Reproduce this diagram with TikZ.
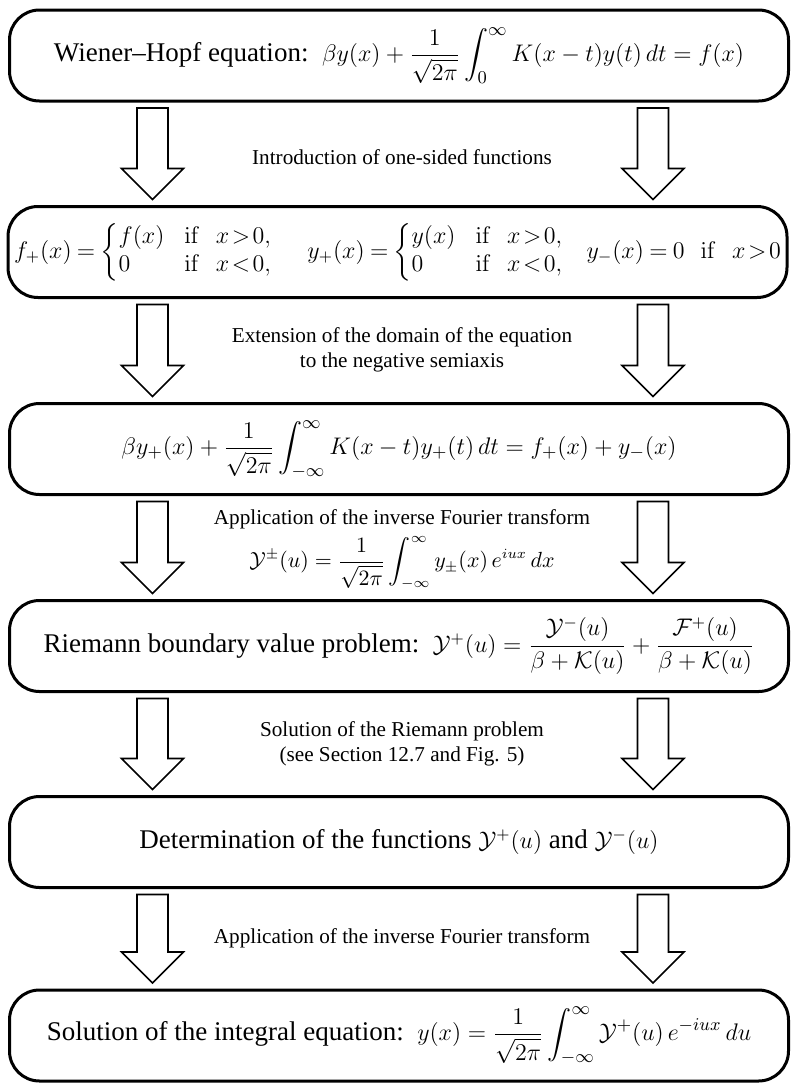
\documentclass[tikz,border=0pt]{standalone}
\usepackage{amsmath}
\usepackage[no-math]{fontspec}
\setmainfont{Liberation Serif}
\usetikzlibrary{calc}
\tikzset{
  stage/.style={draw, line width=1.5pt, rounded corners=15pt, minimum width=389.5pt,
    minimum height=45.5pt, inner sep=0pt, outer sep=0pt, font=\fontsize{13.5}{16}\selectfont},
  lbl/.style={font=\fontsize{10.6}{12.5}\selectfont, align=center, inner sep=0pt},
  barrow/.style={draw, line width=0.8pt, fill=white, line join=miter}
}
\newcommand\mth[2][12]{{\fontsize{#1}{14}\selectfont$#2$}}
\newcommand\blockarr[3]{%
  \path (#1.south -| #3) ++(0,7) coordinate (s)
        (#2.north -| #3) ++(0,-7) coordinate (t);
  \draw[barrow] ($(s)+(-15.5,0)$) -- ($(s)+(15.5,0)$) -- ($(t)+(15.5,-31)$)
    -- ($(t)+(31,-31)$) -- (t) -- ($(t)+(-31,-31)$) -- ($(t)+(-15.5,-31)$) -- cycle;}
\begin{document}
\begin{tikzpicture}[x=0.5pt,y=-0.5pt]
\useasboundingbox (0,0) rectangle (791,1083);
\coordinate (colL) at (152.5,0);
\coordinate (colR) at (653,0);

\node[stage] (b1) at (399,55.5) {Wiener--Hopf equation:\enspace \mth[13]{\beta y(x)+\dfrac{1}{\sqrt{2\pi}}\displaystyle\int_0^\infty K(x-t)y(t)\,dt=f(x)}};

\node[stage] (b2) at (397.5,252) {\mth{f_+(x)\mkern-1mu=\mkern-1mu\left\{\begin{array}{@{}ll}f(x) & \mathrm{if}\hspace{8pt}x\!>\!0,\\ 0 & \mathrm{if}\hspace{8pt}x\!<\!0,\end{array}\right.}\hspace{12pt}\mth{y_+(x)\mkern-1mu=\mkern-1mu\left\{\begin{array}{@{}ll}y(x) & \mathrm{if}\hspace{8pt}x\!>\!0,\\ 0 & \mathrm{if}\hspace{8pt}x\!<\!0,\end{array}\right.}\hspace{6pt}\mth{y_-(x)\mkern-1mu=\mkern-1mu0\hspace{8pt}\mathrm{if}\hspace{8pt}x\!>\!0}};

\node[stage] (b3) at (399,449) {\mth[12.25]{\beta y_+(x)+\dfrac{1}{\sqrt{2\pi}}\displaystyle\int_{-\infty}^{\infty}K(x-t)y_+(t)\,dt=f_+(x)+y_-(x)}};

\node[stage] (b4) at (399,646) {Riemann boundary value problem:\enspace \mth{\mathcal{Y}^+(u)=\dfrac{\mathcal{Y}^-(u)}{\beta+\mathcal{K}(u)}+\dfrac{\mathcal{F}^+(u)}{\beta+\mathcal{K}(u)}}};

\node[stage] (b5) at (399,842) {Determination of the functions \mth{\mathcal{Y}^+(u)} and \mth{\mathcal{Y}^-(u)}};

\node[stage] (b6) at (399,1035.5) {Solution of the integral equation:\enspace \mth[12.3]{y(x)=\dfrac{1}{\sqrt{2\pi}}\displaystyle\int_{-\infty}^{\infty}\mathcal{Y}^+(u)\,e^{-iux}\,du}};

\blockarr{b1}{b2}{colL}\blockarr{b1}{b2}{colR}
\blockarr{b2}{b3}{colL}\blockarr{b2}{b3}{colR}
\blockarr{b3}{b4}{colL}\blockarr{b3}{b4}{colR}
\blockarr{b4}{b5}{colL}\blockarr{b4}{b5}{colR}
\blockarr{b5}{b6}{colL}\blockarr{b5}{b6}{colR}

\node[lbl] (l1) at (402,157) {Introduction of one-sided functions};
\node[lbl] (l2) at (402,349.5) {Extension of the domain of the equation\\to the negative semiaxis};
\node[lbl, anchor=north] (l3) at (402,509) {Application of the inverse Fourier transform\\[3pt]$\displaystyle\mathcal{Y}^{\pm}(u)=\frac{1}{\sqrt{2\pi}}\int_{-\infty}^{\infty}y_{\pm}(x)\,e^{iux}\,dx$};
\node[lbl] (l4) at (402,743.5) {Solution of the Riemann problem\\(see Section 12.7 and Fig. 5)};
\node[lbl] (l5) at (402,938) {Application of the inverse Fourier transform};
\end{tikzpicture}
\end{document}
